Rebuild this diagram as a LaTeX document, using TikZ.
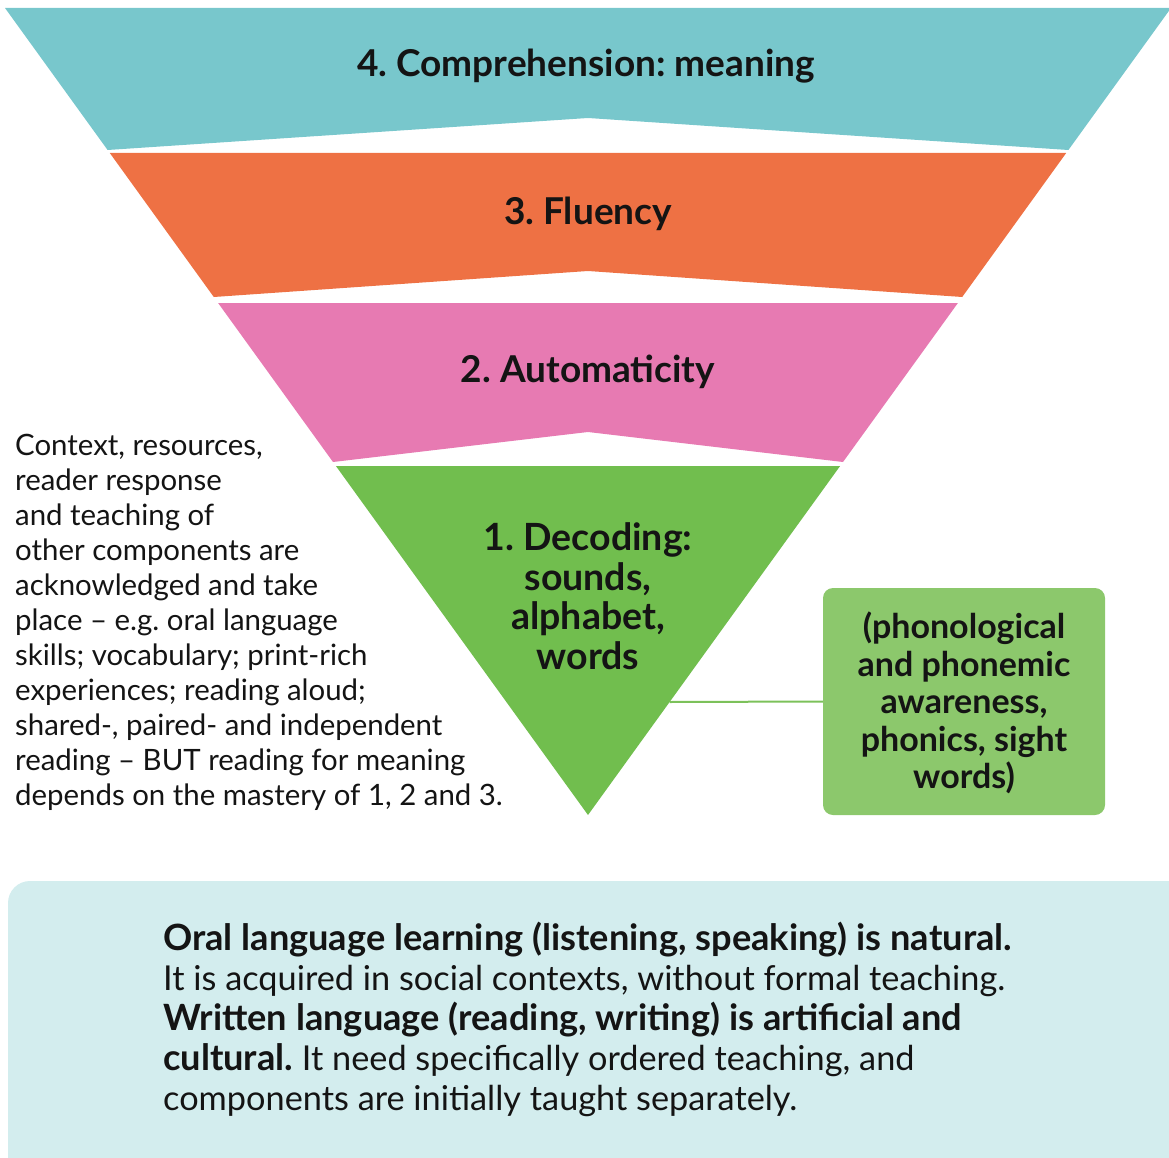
\documentclass[tikz,border=0pt]{standalone}
\usepackage{fontspec}
\setmainfont{Lato}
\frenchspacing
\definecolor{teal4}{HTML}{78C7CC}
\definecolor{orange3}{HTML}{EE7144}
\definecolor{pink2}{HTML}{E77AB2}
\definecolor{green1}{HTML}{71BE4E}
\definecolor{boxgreen}{HTML}{8CC86C}
\definecolor{linegreen}{HTML}{7CC15A}
\definecolor{bottombox}{HTML}{D3EDEE}
\definecolor{ink}{HTML}{141414}
\newcommand{\notebold}[1]{{\fontsize{36.2}{40}\selectfont\bfseries #1}}
\begin{document}
\begin{tikzpicture}[x=1pt,y=-1pt,
  levellabel/.style={font=\fontsize{37}{40}\selectfont\bfseries, text=ink, align=center, inner sep=0pt},
  sidetext/.style={font=\fontsize{29.4}{35}\selectfont, text=ink, align=left, inner sep=0pt},
  boxtext/.style={font=\fontsize{34}{37.5}\selectfont\bfseries, text=ink, align=center, inner sep=0pt},
  noteframe/.style={fill=bottombox, draw=none, rounded corners=22pt},
  notetext/.style={font=\fontsize{34.3}{40}\selectfont, text=ink, align=left, inner sep=0pt}]
\useasboundingbox (0,0) rectangle (1169,1158);
% bands
\fill[teal4] (5,8) -- (1171,8) -- (1068.4,150) -- (588,118) -- (107.6,150) -- cycle;
\fill[orange3] (109.8,153) -- (1066.2,153) -- (962.2,297) -- (588,271) -- (213.8,297) -- cycle;
\fill[pink2] (218.1,303) -- (957.9,303) -- (843,462) -- (588,432) -- (333,462) -- cycle;
\fill[green1] (335.9,466) -- (840.1,466) -- (588,815) -- cycle;
% labels
\node[levellabel] (l4) at (586,66) {4. Comprehension: meaning};
\node[levellabel] (l3) at (588,214) {3. Fluency};
\node[levellabel] (l2) at (588,372) {2. Automaticity};
\node[levellabel, font=\fontsize{37.5}{39.5}\selectfont\bfseries] (l1) at (588,596) {1. Decoding:\\sounds,\\alphabet,\\words};
% side box
\node[fill=boxgreen, rounded corners=10pt, minimum width=282pt, minimum height=227pt, inner sep=0pt] (phon) at (964,701.5) {};
\node[boxtext] (phontext) at (964,703) {(phonological\\and phonemic\\awareness,\\phonics, sight\\words)};
\coordinate (tri) at (669.6,702);
\draw[linegreen, line width=2pt] (tri) -- (phon.west);
% left text
\node[sidetext, anchor=west] (ctx) at (15,622) {Context, resources,\\reader response\\and teaching of\\other components are\\acknowledged and take\\place -- e.g. oral language\\skills; vocabulary; print-rich\\experiences; reading aloud;\\shared-, paired- and independent\\reading -- BUT reading for meaning\\depends on the mastery of 1, 2 and 3.};
% bottom box
\fill[noteframe] (8,881) rectangle (1200,1190);
\node[notetext, anchor=west] (note) at (163,1019.5) {\notebold{Oral language learning (listening, speaking) is natural.}\\It is acquired in social contexts, without formal teaching.\\\notebold{Written language (reading, writing) is artificial and}\\\notebold{cultural.} It need specifically ordered teaching, and\\components are initially taught separately.};
\end{tikzpicture}
\end{document}
